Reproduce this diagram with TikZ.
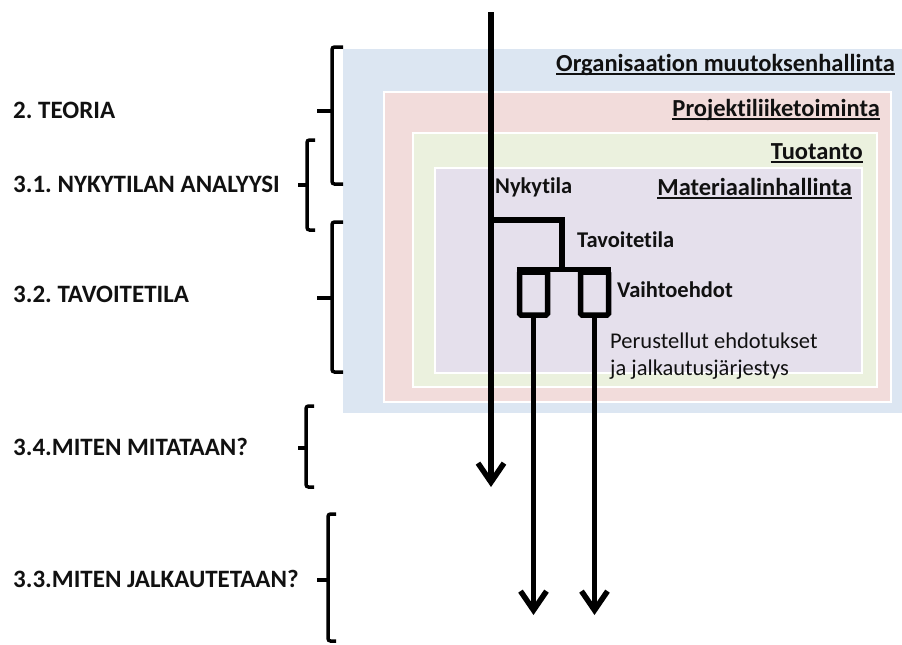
\documentclass[tikz,border=0pt]{standalone}
\usepackage{fontspec}
\setmainfont{Carlito}[Ligatures=NoCommon]
\usetikzlibrary{arrows.meta}
\definecolor{bandblue}{HTML}{DCE6F2}
\definecolor{bandred}{HTML}{F2DCDB}
\definecolor{bandgreen}{HTML}{EBF1DE}
\definecolor{bandviolet}{HTML}{E5E0EC}
\definecolor{inkdark}{HTML}{111111}
\frenchspacing

\begin{document}
\begin{tikzpicture}[x=1pt,y=-1pt,
  band/.style={draw=white, line width=1.5pt},
  bandlabel/.style={anchor=base east, inner sep=0pt, text=inkdark,
    font=\fontsize{24.5}{29}\selectfont\bfseries},
  chapter/.style={anchor=base west, inner sep=0pt, text=inkdark,
    font=\fontsize{25}{30}\selectfont\bfseries},
  stage/.style={anchor=base west, inner sep=0pt, text=inkdark,
    font=\fontsize{22.5}{27}\selectfont\bfseries},
  stagenote/.style={anchor=base west, inner sep=0pt, text=inkdark, align=left,
    font=\fontsize{22.5}{27}\selectfont},
  underbar/.style={line width=2pt, draw=inkdark},
  flow/.style={line width=5.5pt},
  flowarrow/.style={flow, -{Straight Barb[length=19pt,width=26pt]}},
  option/.style={draw, flow, rounded corners=1.5pt, minimum width=28pt,
    minimum height=43pt, inner sep=0pt},
  bracket/.style={line width=3.5pt, rounded corners=2.5pt},
]
\useasboundingbox (0,0) rectangle (902,645);

% nested scopes
\fill[bandblue] (343,49) rectangle (902,413);
\filldraw[band, fill=bandred] (384,92) rectangle (891,402);
\filldraw[band, fill=bandgreen] (413,133) rectangle (877,387);
\filldraw[band, fill=bandviolet] (435,168) rectangle (862,373);

% scope titles, underlined
\node[bandlabel] (org) at (895,71) {Organisaation muutoksenhallinta};
\node[bandlabel] (proj) at (880,116) {Projektiliiketoiminta};
\node[bandlabel] (prod) at (863,159) {Tuotanto};
\node[bandlabel] (mat) at (852,195) {Materiaalinhallinta};
\foreach \n in {org,proj,prod,mat}
  \draw[underbar] ([yshift=-2.5pt]\n.base west) -- ([yshift=-2.5pt]\n.base east);

% chapter headings
\node[chapter] (teoria) at (13,118) {2. TEORIA};
\node[chapter] (nyky) at (13,192) {3.1. NYKYTILAN ANALYYSI};
\node[chapter] (tavo) at (13,302) {3.2. TAVOITETILA};
\node[chapter] (mitt) at (13,455) {3.4.MITEN MITATAAN?};
\node[chapter] (jalk) at (13,587) {3.3.MITEN JALKAUTETAAN?};

% brackets grouping the chapters
\draw[bracket] (343,47) -- (332,47) -- (332,184) -- (343,184);
\draw[bracket] (332,111) -- (317,111);
\draw[bracket] (315,140) -- (307,140) -- (307,230) -- (315,230);
\draw[bracket] (307,185) -- (298,185);
\draw[bracket] (343,222) -- (332,222) -- (332,372) -- (343,372);
\draw[bracket] (332,298) -- (317,298);
\draw[bracket] (314,406) -- (306,406) -- (306,487) -- (314,487);
\draw[bracket] (306,448) -- (298,448);
\draw[bracket] (336,514) -- (328,514) -- (328,641) -- (336,641);
\draw[bracket] (328,580) -- (317,580);

% stage labels
\node[stage] (s1) at (495,193) {Nykytila};
\node[stage] (s2) at (577,247) {Tavoitetila};
\node[stage] (s3) at (617,297) {Vaihtoehdot};
\node[stagenote] (s4) at (610,375) {Perustellut ehdotukset\\ja jalkautusjärjestys};

% flow
\coordinate (start) at (491,12);
\coordinate (split) at (491,220);
\coordinate (now) at (491,487);
\coordinate (turn) at (562,220);
\coordinate (fork) at (562,272);
\node[option] (optA) at (533.5,293.5) {};
\node[option] (optB) at (594.5,293.5) {};
\coordinate (endA) at (533.5,615);
\coordinate (endB) at (594.5,615);

\draw[flowarrow] (start) -- (now);
\draw[flow, line join=miter] (split) -- (turn) -- (fork);
\draw[flow] (optA.north west) -- (optB.north east);
\draw[flowarrow] (optA.south) -- (endA);
\draw[flowarrow] (optB.south) -- (endB);
\end{tikzpicture}
\end{document}
